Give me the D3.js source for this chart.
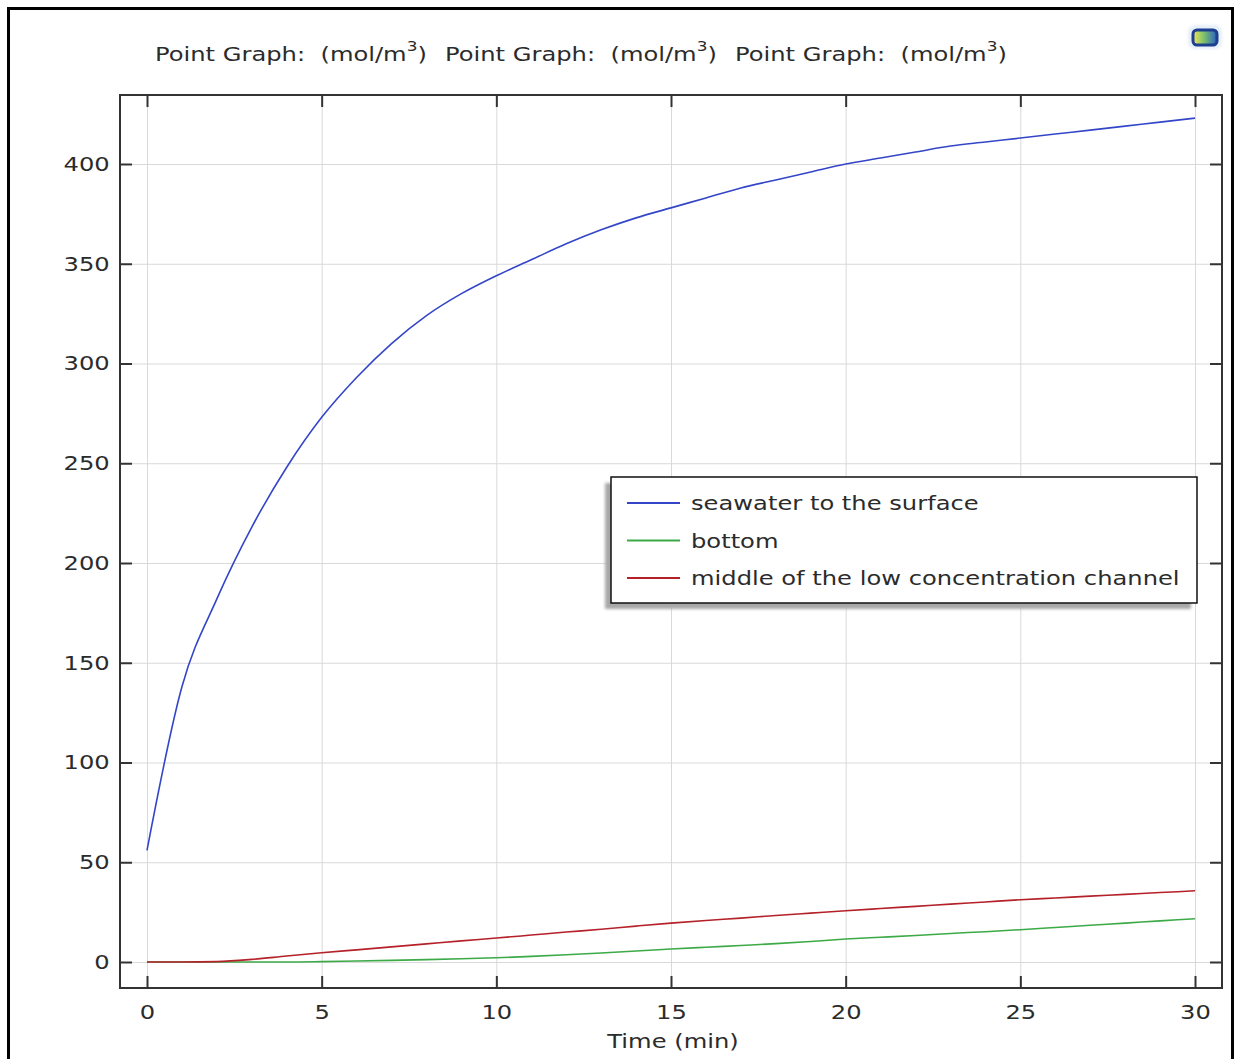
<!DOCTYPE html>
<html>
<head>
<meta charset="utf-8">
<script src="https://cdn.jsdelivr.net/npm/d3@7"></script>
<style>
body { margin: 0; background: #fff; }
svg { display: block; }
</style>
</head>
<body>
<div id="chart"></div>
<script>
// time (min) and concentrations (mol/m^3)
var times = [0, 1, 2, 3, 4, 5, 6, 7, 8, 9, 10, 11, 12, 13, 14, 15, 16, 17, 18, 19, 20, 21, 22, 23, 24, 25, 26, 27, 28, 29, 30];
var seawater = [56, 138, 182, 218, 248, 273, 293, 310, 324, 335, 344, 352, 360, 367, 373, 378, 383, 388, 392, 396, 400, 403, 406, 409, 411, 413, 415, 417, 419, 421, 423];
var bottom = [0, 0, 0, 0, 0, 0.2, 0.5, 0.8, 1.2, 1.6, 2.1, 2.8, 3.6, 4.5, 5.5, 6.5, 7.4, 8.3, 9.2, 10.3, 11.5, 12.4, 13.3, 14.3, 15.2, 16.2, 17.3, 18.4, 19.5, 20.6, 21.7];
var middle = [0, 0, 0.2, 1.3, 3.0, 4.6, 6.1, 7.6, 9.1, 10.6, 12.0, 13.5, 15.0, 16.4, 18.0, 19.5, 20.8, 22.0, 23.3, 24.5, 25.7, 26.8, 27.9, 29.0, 30.1, 31.2, 32.1, 33.0, 33.9, 34.8, 35.7];

var seriesNames = ["seawater to the surface", "bottom", "middle of the low concentration channel"];
var seriesColors = ["#3446c8", "#3daa48", "#b52129"];
var xTicks = [0, 5, 10, 15, 20, 25, 30];
var yTicks = [0, 50, 100, 150, 200, 250, 300, 350, 400];
var titleLabel = "Point Graph:";
var titleUnit = "(mol/m";

var width = 1236,
	height = 1059,
	plotLeft = 120,
	plotRight = 1222,
	plotTop = 95,
	plotBottom = 988,
	font = "'DejaVu Sans', Verdana, sans-serif",
	fontSize = "20px",
	stretch = "scale(1.21,1)",
	textColor = "#2b2b2b";

var svg = d3.select("#chart").append("svg")
	.attr("width", width)
	.attr("height", height);

var defs = svg.append("defs");
var blur = defs.append("filter").attr("id", "shadow");
blur.append("feGaussianBlur").attr("stdDeviation", 1.5);

var grad = defs.append("linearGradient").attr("id", "iconGrad");
grad.append("stop").attr("offset", "0%").attr("stop-color", "#f2e35a");
grad.append("stop").attr("offset", "45%").attr("stop-color", "#7cc36a");
grad.append("stop").attr("offset", "100%").attr("stop-color", "#2b5fc4");

// outer window border
svg.append("rect")
	.attr("x", 8.5)
	.attr("y", 8.5)
	.attr("width", 1224)
	.attr("height", 1100)
	.attr("fill", "#fff")
	.attr("stroke", "#000")
	.attr("stroke-width", 3);

// small toolbar icon, top right
svg.append("rect")
	.attr("x", 1188)
	.attr("y", 25)
	.attr("width", 34)
	.attr("height", 24)
	.attr("rx", 7)
	.attr("fill", "#dce8f6")
	.attr("opacity", 0.7)
	.attr("filter", "url(#shadow)");
svg.append("rect")
	.attr("x", 1193)
	.attr("y", 30)
	.attr("width", 24)
	.attr("height", 15)
	.attr("rx", 4)
	.attr("fill", "url(#iconGrad)")
	.attr("stroke", "#1d3f8f")
	.attr("stroke-width", 3);

// title
var titleX = [155, 445, 735];
titleX.forEach(function(x) {
	var g = svg.append("g").attr("transform", "translate(" + x + ",61) " + stretch);
	var t = g.append("text")
		.style("font-family", font)
		.style("font-size", fontSize)
		.style("fill", textColor)
		.style("white-space", "pre");
	t.append("tspan").text(titleLabel + "  " + titleUnit);
	t.append("tspan").attr("dy", -10).style("font-size", "14px").text("3");
	t.append("tspan").attr("dy", 10).text(")");
});

var x = d3.scaleLinear().domain([0, 30]).range([147, 1195]);
var y = d3.scaleLinear().domain([0, 400]).range([962, 164]);

// gridlines
svg.append("g")
	.attr("transform", "translate(0," + plotBottom + ")")
	.call(d3.axisBottom(x).tickValues(xTicks).tickSize(-(plotBottom - plotTop)).tickFormat(""))
	.call(function(g) { g.select(".domain").remove(); })
	.selectAll("line").attr("stroke", "#d9d9d9");
svg.append("g")
	.attr("transform", "translate(" + plotLeft + ",0)")
	.call(d3.axisLeft(y).tickValues(yTicks).tickSize(-(plotRight - plotLeft)).tickFormat(""))
	.call(function(g) { g.select(".domain").remove(); })
	.selectAll("line").attr("stroke", "#d9d9d9");

// series
var series = [seawater, bottom, middle];
var line = d3.line()
	.curve(d3.curveMonotoneX)
	.x(function(d, i) { return x(times[i]); })
	.y(function(d) { return y(d); });

series.forEach(function(values, i) {
	svg.append("path")
		.datum(values)
		.attr("d", line)
		.attr("fill", "none")
		.attr("stroke", seriesColors[i])
		.attr("stroke-width", 1.6);
});

// plot frame
svg.append("rect")
	.attr("x", plotLeft)
	.attr("y", plotTop)
	.attr("width", plotRight - plotLeft)
	.attr("height", plotBottom - plotTop)
	.attr("fill", "none")
	.attr("stroke", "#333")
	.attr("stroke-width", 2);

function styleAxis(g) {
	g.select(".domain").remove();
	g.selectAll("line").attr("stroke", "#333").attr("stroke-width", 2);
	g.selectAll("text")
		.attr("fill", textColor)
		.style("font-family", font)
		.style("font-size", fontSize)
		.attr("transform", stretch);
}

svg.append("g")
	.attr("transform", "translate(0," + plotBottom + ")")
	.call(d3.axisBottom(x).tickValues(xTicks).tickSize(-12).tickPadding(17))
	.call(styleAxis);
svg.append("g")
	.attr("transform", "translate(0," + plotTop + ")")
	.call(d3.axisTop(x).tickValues(xTicks).tickSize(-12).tickFormat(""))
	.call(styleAxis);
svg.append("g")
	.attr("transform", "translate(" + plotLeft + ",0)")
	.call(d3.axisLeft(y).tickValues(yTicks).tickSize(-12).tickPadding(8.5))
	.call(styleAxis);
svg.append("g")
	.attr("transform", "translate(" + plotRight + ",0)")
	.call(d3.axisRight(y).tickValues(yTicks).tickSize(-12).tickFormat(""))
	.call(styleAxis);

// x axis title
svg.append("g")
	.attr("transform", "translate(673,1048) " + stretch)
	.append("text")
	.attr("text-anchor", "middle")
	.style("font-family", font)
	.style("font-size", fontSize)
	.style("fill", textColor)
	.text("Time (min)");

// legend
var legend = svg.append("g").attr("transform", "translate(611,477)");
legend.append("rect")
	.attr("x", -6)
	.attr("y", 6)
	.attr("width", 586)
	.attr("height", 126)
	.attr("fill", "#a8a8a8")
	.attr("filter", "url(#shadow)");
legend.append("rect")
	.attr("width", 586)
	.attr("height", 126)
	.attr("fill", "#fff")
	.attr("stroke", "#111")
	.attr("stroke-width", 1.5);

seriesNames.forEach(function(name, i) {
	var rowY = 26 + 37.5 * i;
	legend.append("line")
		.attr("x1", 16)
		.attr("x2", 69)
		.attr("y1", rowY)
		.attr("y2", rowY)
		.attr("stroke", seriesColors[i])
		.attr("stroke-width", 1.8);
	legend.append("g")
		.attr("transform", "translate(80," + (rowY + 7) + ") " + stretch)
		.append("text")
		.style("font-family", font)
		.style("font-size", fontSize)
		.style("fill", textColor)
		.text(name);
});
</script>
</body>
</html>
